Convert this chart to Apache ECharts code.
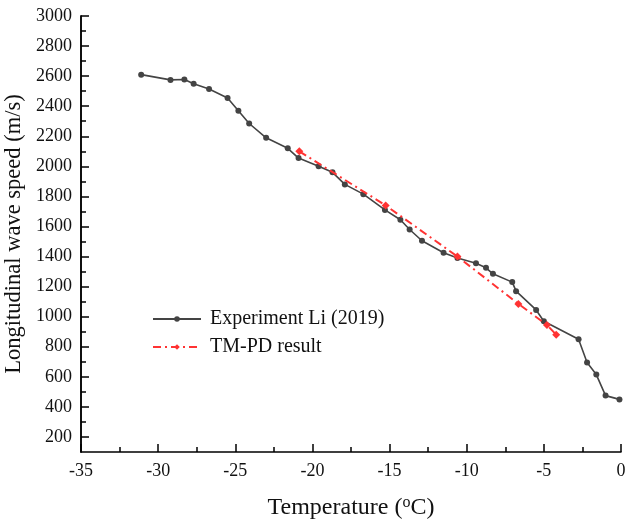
<!DOCTYPE html>
<html>
<head>
<meta charset="utf-8">
<script src="https://cdn.jsdelivr.net/npm/echarts@6/dist/echarts.min.js"></script>
<style>
  html, body { margin: 0; padding: 0; background: #fff; }
  #chart { width: 625px; height: 520px; }
</style>
</head>
<body>
<div id="chart"></div>
<script>
  // Experiment Li (2019)
  var expTemp = [-31.1, -29.2, -28.3, -27.7, -26.7, -25.5, -24.8, -24.1, -23.0, -21.6, -20.9, -19.6, -18.7, -17.9, -16.7, -15.3, -14.3, -13.7, -12.9, -11.5, -10.6, -9.4, -8.75, -8.3, -7.05, -6.8, -5.5, -5.0, -2.75, -2.2, -1.6, -1.0, -0.1];
  var expSpeed = [2610, 2575, 2578, 2550, 2515, 2455, 2370, 2285, 2190, 2120, 2055, 2000, 1960, 1880, 1815, 1710, 1645, 1580, 1505, 1425, 1390, 1355, 1325, 1285, 1230, 1170, 1045, 970, 850, 695, 615, 475, 450];
  // TM-PD result
  var pdTemp = [-20.85, -15.25, -10.6, -6.65, -4.8, -4.2];
  var pdSpeed = [2100, 1740, 1400, 1085, 945, 880];

  var yLabels = [200, 400, 600, 800, 1000, 1200, 1400, 1600, 1800, 2000, 2200, 2400, 2600, 2800, 3000];
  var yMinor = [300, 500, 700, 900, 1100, 1300, 1500, 1700, 1900, 2100, 2300, 2500, 2700, 2900];

  function pairs(xs, ys) {
    return xs.map(function (x, i) { return [x, ys[i]]; });
  }

  var font = 'Liberation Serif, Times New Roman, serif';
  var chart = echarts.init(document.getElementById('chart'));
  chart.setOption({
    animation: false,
    grid: { left: 81, right: 4, top: 16, bottom: 68, outerBoundsMode: 'none' },
    legend: {
      left: 147,
      top: 304,
      orient: 'vertical',
      itemWidth: 48,
      itemHeight: 7,
      itemGap: 8,
      textStyle: { fontFamily: font, fontSize: 20, color: '#111', padding: [0, 0, 0, 4] },
      data: ['Experiment Li (2019)', 'TM-PD result']
    },
    xAxis: {
      type: 'value',
      min: -35,
      max: 0,
      interval: 5,
      name: '{t|Temperature (}{s|o}{t|C)}',
      nameLocation: 'middle',
      nameGap: 43,
      nameTextStyle: {
        rich: {
          t: { fontFamily: font, fontSize: 24, color: '#111' },
          s: { fontFamily: font, fontSize: 16, color: '#111', verticalAlign: 'top', padding: [0, 0, 10, 0] }
        }
      },
      axisLine: { onZero: false, lineStyle: { color: '#000', width: 1.5 } },
      axisTick: { inside: true, length: 8, lineStyle: { color: '#000', width: 1.5 } },
      minorTick: { show: true, splitNumber: 2, length: 5, lineStyle: { color: '#000', width: 1.5 } },
      axisLabel: { fontFamily: font, fontSize: 18, color: '#111', margin: 10 },
      splitLine: { show: false }
    },
    yAxis: [{
      type: 'value',
      min: 100,
      max: 3000,
      name: 'Longitudinal wave speed (m/s)',
      nameLocation: 'middle',
      nameGap: 40,
      nameTextStyle: { fontFamily: font, fontSize: 22.5, color: '#111' },
      axisLine: { onZero: false, lineStyle: { color: '#000', width: 1.5 } },
      axisTick: { show: true, inside: true, length: 8, customValues: yLabels, lineStyle: { color: '#000', width: 1.5 } },
      axisLabel: {
        fontFamily: font, fontSize: 18, color: '#111', margin: 9, customValues: yLabels,
        formatter: function (v) { return String(v); }
      },
      splitLine: { show: false }
    }, {
      // minor ticks only
      type: 'value',
      position: 'left',
      offset: 0,
      min: 100,
      max: 3000,
      axisLine: { show: true, onZero: false, lineStyle: { color: '#000', width: 1.5 } },
      axisTick: { show: true, inside: true, length: 5, customValues: yMinor, lineStyle: { color: '#000', width: 1.5 } },
      axisLabel: { show: true, customValues: yMinor, formatter: function () { return ''; } },
      splitLine: { show: false }
    }],
    series: [{
      name: 'Experiment Li (2019)',
      type: 'line',
      data: pairs(expTemp, expSpeed),
      symbol: 'circle',
      symbolSize: 6,
      itemStyle: { color: '#444' },
      lineStyle: { color: '#444', width: 1.6 },
      z: 2
    }, {
      name: 'TM-PD result',
      type: 'line',
      data: pairs(pdTemp, pdSpeed),
      symbol: 'diamond',
      symbolSize: 8,
      itemStyle: { color: '#ff3333' },
      lineStyle: { color: '#ff3333', width: 2, type: [8, 4, 2, 4] },
      z: 3
    }]
  });
</script>
</body>
</html>
